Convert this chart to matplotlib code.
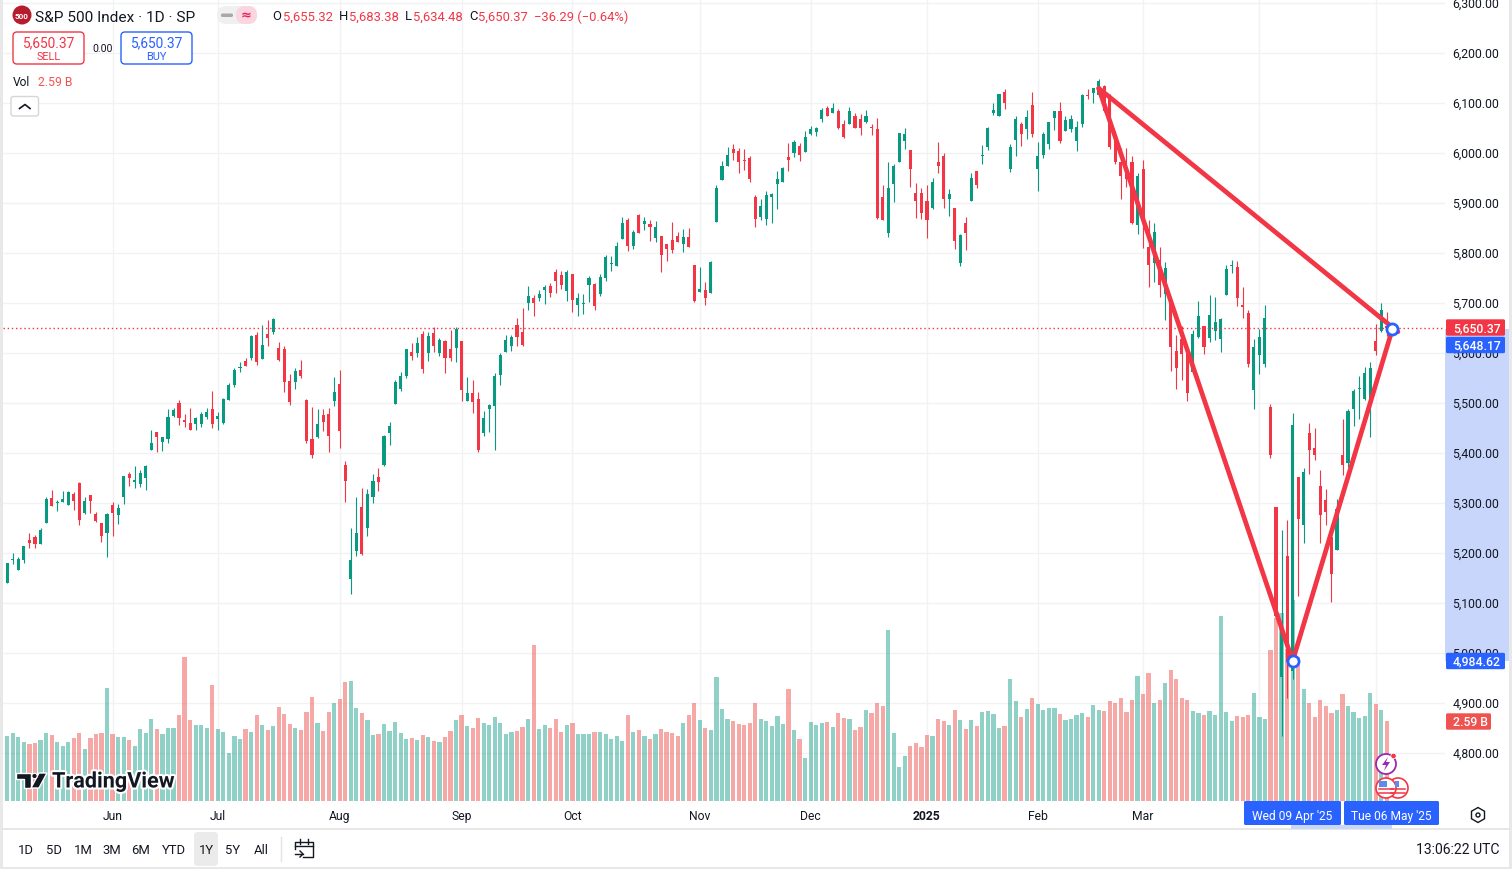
import matplotlib
matplotlib.use('Agg')
import matplotlib.pyplot as plt
import matplotlib.patheffects as pe
from matplotlib.colors import to_rgba
from matplotlib.transforms import ScaledTranslation
from matplotlib.patches import Rectangle, FancyBboxPatch, Circle, Polygon, RegularPolygon

plt.rcParams['font.family'] = ['Roboto', 'DejaVu Sans']

opens = [5141,5187,5167,5187,5227,5233,5219,5261,5311,5301,
5303,5297,5319,5341,5281,5317,5279,5261,5241,5297,
5277,5313,5359,5343,5339,5351,5407,5443,5423,5429,
5475,5501,5467,5461,5459,5459,5473,5489,5469,5461,
5507,5537,5571,5585,5591,5637,5589,5639,5643,5611,
5609,5545,5543,5567,5507,5429,5433,5477,5479,5505,
5539,5377,5149,5205,5293,5251,5313,5353,5377,5441,
5499,5529,5555,5603,5601,5639,5601,5641,5601,5625,
5609,5611,5625,5505,5521,5509,5441,5489,5495,5557,
5603,5615,5657,5643,5701,5711,5711,5727,5735,5763,
5757,5725,5759,5697,5699,5737,5739,5719,5751,5779,
5775,5829,5867,5815,5877,5859,5859,5831,5835,5819,
5827,5835,5819,5833,5777,5723,5727,5721,5863,5947,
5975,6009,6005,5987,5991,5913,5873,5869,5913,5939,
5943,5993,6001,6015,6003,6039,6043,6069,6091,6081,
6085,6059,6059,6075,6069,6063,6053,6049,5913,5841,
5939,5983,6025,6007,5921,5921,5905,5891,5983,5995,
5909,5891,5781,5861,5905,5965,5995,6013,6081,6075,
6123,5969,6027,6059,6049,6097,5969,5997,6019,6071,
6085,6045,6049,6025,6059,6117,6121,6117,6135,6113,
6029,5983,5971,5983,5857,5969,5813,5781,5787,5719,
5707,5605,5629,5599,5563,5633,5655,5631,5645,5629,
5717,5775,5773,5697,5681,5527,5597,5579,5492,5292,
4953,5194,4965,5353,5256,5441,5411,5335,5306,5232,
5207,5396,5381,5489,5529,5508,5499,5625,5645,5655]

highs = [5181,5201,5192,5215,5241,5237,5251,5313,5327,5307,
5325,5325,5323,5343,5313,5317,5283,5261,5281,5303,
5299,5355,5363,5375,5367,5377,5447,5443,5433,5489,
5491,5507,5479,5491,5473,5483,5491,5525,5483,5511,
5541,5571,5583,5591,5637,5643,5657,5667,5671,5623,
5615,5559,5571,5587,5509,5493,5489,5489,5491,5553,
5567,5385,5251,5313,5331,5329,5359,5371,5437,5463,
5547,5563,5609,5621,5633,5645,5643,5653,5631,5627,
5647,5653,5625,5553,5547,5523,5485,5499,5561,5601,
5637,5637,5671,5691,5735,5717,5727,5737,5741,5769,
5765,5767,5759,5721,5719,5755,5741,5759,5797,5795,
5823,5873,5871,5847,5879,5873,5867,5865,5835,5819,
5863,5843,5849,5851,5777,5773,5743,5785,5937,5985,
6013,6019,6011,6009,5995,5917,5909,5925,5921,5965,
5973,6021,6027,6021,6045,6055,6053,6091,6095,6101,
6089,6067,6093,6081,6079,6087,6059,6071,5937,5983,
5979,6041,6051,6007,5941,5931,5937,5951,6023,6001,
5929,5891,5839,5873,5961,5965,6017,6053,6101,6119,
6129,6019,6075,6063,6087,6123,6023,6043,6063,6085,
6103,6075,6077,6065,6119,6129,6131,6149,6137,6119,
6045,6011,6011,5995,5961,5987,5867,5861,5813,5783,
5709,5637,5655,5599,5647,5705,5655,5717,5713,5671,
5777,5787,5785,5733,5687,5629,5649,5697,5499,5292,
5247,5267,5481,5353,5371,5460,5450,5367,5329,5232,
5309,5469,5489,5528,5554,5572,5582,5659,5701,5683]

lows = [5141,5179,5167,5181,5211,5211,5219,5261,5295,5285,
5303,5297,5287,5257,5279,5281,5263,5223,5193,5235,
5259,5299,5335,5331,5333,5327,5407,5403,5405,5421,
5473,5457,5453,5447,5447,5453,5469,5451,5447,5459,
5507,5533,5563,5575,5587,5577,5589,5615,5639,5585,
5523,5497,5529,5551,5421,5391,5431,5445,5403,5495,
5411,5303,5119,5195,5197,5235,5301,5325,5374,5417,
5499,5525,5551,5587,5593,5561,5585,5603,5595,5561,
5585,5583,5505,5505,5481,5403,5435,5443,5407,5537,
5603,5605,5615,5615,5687,5675,5705,5699,5713,5721,
5729,5705,5683,5675,5679,5703,5687,5715,5745,5765,
5775,5829,5805,5809,5841,5847,5825,5823,5763,5785,
5801,5823,5803,5813,5703,5723,5697,5721,5863,5947,
5975,5987,5961,5967,5943,5853,5867,5857,5861,5889,
5943,5965,5993,5985,6003,6037,6035,6063,6075,6081,
6049,6031,6059,6051,6037,6061,6037,5869,5867,5833,
5903,5983,6009,5933,5871,5869,5831,5889,5961,5891,
5875,5809,5775,5807,5905,5931,5979,6007,6077,6075,
6089,5963,5995,6015,6029,6033,5925,5991,6009,6047,
6021,6045,6043,6005,6053,6109,6101,6115,6082,6009,
5979,5909,5933,5859,5839,5811,5733,5743,5713,5667,
5565,5529,5547,5505,5563,5631,5599,5623,5627,5603,
5717,5761,5695,5671,5573,5489,5559,5573,5390,5069,
4835,4910,4948,5115,5220,5359,5387,5221,5256,5102,
5207,5357,5372,5455,5468,5506,5433,5597,5643,5634]

closes = [5181,5189,5189,5215,5221,5219,5247,5309,5295,5303,
5309,5323,5305,5267,5305,5305,5265,5235,5279,5281,
5291,5355,5351,5347,5361,5375,5421,5433,5433,5473,
5487,5471,5463,5447,5471,5479,5483,5459,5475,5509,
5537,5567,5573,5575,5635,5583,5617,5631,5669,5587,
5543,5503,5565,5555,5425,5397,5459,5463,5435,5523,
5445,5345,5187,5241,5199,5319,5345,5343,5435,5455,
5543,5555,5609,5595,5621,5569,5635,5615,5627,5591,
5591,5649,5527,5521,5503,5407,5471,5497,5555,5597,
5627,5633,5633,5617,5715,5701,5719,5733,5721,5745,
5737,5763,5707,5711,5701,5751,5695,5753,5793,5781,
5815,5861,5815,5843,5841,5865,5853,5853,5797,5809,
5807,5823,5833,5813,5705,5729,5711,5783,5931,5975,
5997,6001,5983,5985,5949,5869,5895,5917,5919,5949,
5971,5987,6023,5997,6033,6049,6051,6087,6075,6091,
6051,6033,6085,6051,6051,6075,6051,5871,5867,5931,
5975,6041,6039,5969,5905,5881,5867,5943,5975,5909,
5919,5825,5837,5841,5951,5937,5997,6051,6087,6119,
6101,6013,6069,6039,6073,6039,5995,6039,6063,6085,
6025,6067,6069,6053,6117,6115,6131,6145,6085,6013,
5983,5955,5949,5861,5955,5869,5777,5843,5737,5771,
5613,5571,5599,5521,5639,5675,5613,5677,5663,5669,
5769,5777,5711,5693,5579,5613,5633,5671,5396,5074,
5062,4983,5457,5268,5363,5406,5397,5276,5283,5158,
5288,5376,5485,5525,5529,5561,5570,5604,5687,5650]

# volume in billions
volumes = [2.11,2.20,2.07,1.91,1.85,1.88,1.98,2.20,2.14,1.91,
1.78,1.91,2.04,2.20,1.68,2.04,2.17,2.20,3.66,2.17,
2.07,2.07,1.98,1.78,2.33,2.20,2.66,2.33,2.17,2.37,
2.37,2.79,4.67,2.62,2.46,2.46,2.37,3.76,2.33,2.24,
1.56,2.11,2.01,2.33,2.24,2.79,2.46,2.30,2.43,3.05,
2.82,2.49,2.37,2.30,2.88,3.37,2.53,2.27,2.88,3.18,
3.30,3.86,3.89,3.01,2.85,2.62,2.14,2.17,2.49,2.27,
2.56,2.20,2.01,2.04,1.98,2.14,2.07,1.94,1.91,2.07,
2.27,2.62,2.79,2.43,2.37,2.69,2.53,2.46,2.72,2.53,
2.17,2.24,2.27,2.40,2.66,5.05,2.33,2.46,2.37,2.66,
2.24,2.46,2.53,2.17,2.17,2.17,2.24,2.24,2.17,2.01,
2.11,1.94,2.79,2.24,2.30,2.11,2.01,2.17,2.33,2.24,
2.20,2.11,2.53,2.79,3.18,2.62,2.37,2.30,4.02,2.98,
2.66,2.59,2.49,2.46,2.53,3.18,2.66,2.59,2.43,2.75,
2.49,3.63,2.30,2.01,1.39,2.56,2.46,2.53,2.56,2.40,
2.85,2.69,2.66,2.30,2.40,2.95,2.85,3.18,3.08,5.54,
2.20,1.10,1.46,1.78,1.88,1.75,2.14,2.11,2.66,2.59,
2.46,2.95,2.62,2.33,2.62,2.43,2.88,2.92,2.82,2.37,
2.43,3.95,3.24,2.72,2.98,3.34,3.14,2.95,3.01,3.01,
2.82,2.62,2.66,2.79,2.85,2.72,3.11,2.95,2.92,3.24,
3.18,3.34,2.88,3.27,4.05,3.47,4.15,3.18,3.27,3.82,
4.24,3.95,3.34,3.27,2.92,2.85,2.79,2.92,2.79,5.99,
2.88,2.59,2.75,2.72,2.79,3.50,2.72,2.66,4.89,5.93,
6.09,4.92,6.49,4.67,3.63,3.18,2.72,3.27,3.08,2.85,
2.95,3.47,3.08,2.88,2.69,2.75,3.50,3.14,2.95,2.59]

# Apr and May sit under the crosshair date boxes, only their gridlines show
month_bars = [20,39,61,83,103,126,146,167,187,206,227,248]
month_names = ['Jun','Jul','Aug','Sep','Oct','Nov','Dec','2025','Feb','Mar','','']
price_ticks = [4800,4900,5000,5100,5200,5300,5400,5500,5600,5700,5800,5900,6000,6100,6200,6300]

# harmonic pattern drawn on the chart (bar number, price)
pat_bars = [198,233,251]
pat_prices = [6130,4984.62,5648.17]
pat_end_bar = 252
pat_end_price = 5643
last_price = 5650.37

UP = '#089981'
DOWN = '#F23645'
VOL_DOWN = '#EF5350'
BLUE = '#2962FF'
GRID = '#F1F2F4'
TXT = '#131722'

W, H = 1512, 870
fig = plt.figure(figsize=(W/100, H/100), dpi=100)
fig.patch.set_facecolor('white')

def px_axes(z):
    a = fig.add_axes([0, 0, 1, 1], zorder=z)
    a.set_xlim(0, W)
    a.set_ylim(H, 0)
    a.axis('off')
    a.patch.set_alpha(0)
    return a

bg = px_axes(0)
bg.add_patch(Rectangle((1445, 330), 65, 332, fc='#C8D6FC', ec='none'))

# main pane, 3..1445 px wide and 0..802 px high
ax = fig.add_axes([3/W, (H-802)/H, 1442/W, 802/H], zorder=1)
ax.patch.set_alpha(0)
ax.set_xlim(0.224, 260.5)
ymin, ymax = 4704.6, 6308.6
ax.set_ylim(ymin, ymax)
for s in ax.spines.values():
    s.set_visible(False)

ax.set_axisbelow(True)
ax.grid(True, color=GRID, lw=1)
ax.set_xticks(month_bars)
ax.set_xticklabels(month_names, fontsize=8.7, color=TXT)
ax.get_xticklabels()[7].set_fontweight('bold')
ax.set_yticks(price_ticks)
ax.set_yticklabels(['{:,.2f}'.format(p) for p in price_ticks], fontsize=8.8, color=TXT)
ax.yaxis.tick_right()
ax.tick_params(axis='both', length=0)
ax.tick_params(axis='y', pad=5.3)
ax.tick_params(axis='x', pad=6)
# price labels sit 2px above their gridlines in the original
nudge = ScaledTranslation(0, 2/100, fig.dpi_scale_trans)
for t in ax.get_yticklabels():
    t.set_transform(t.get_transform() + nudge)

xs = list(range(1, len(opens)+1))
cols = [UP if c >= o else DOWN for o, c in zip(opens, closes)]
vol_cols = [to_rgba(UP, 0.45) if c >= o else to_rgba(VOL_DOWN, 0.5) for o, c in zip(opens, closes)]

# volume sits on the same pane, 1B is about 61.8 price points high
vol_scale = 61.8
ax.bar(xs, [v*vol_scale for v in volumes], bottom=ymin, width=0.76, color=vol_cols, lw=0, zorder=2)

ax.vlines(xs, lows, highs, colors=cols, lw=0.8, zorder=3)
ax.bar(xs, [max(abs(c-o), 1.5) for o, c in zip(opens, closes)], bottom=[min(o, c) for o, c in zip(opens, closes)],
       width=0.56, color=cols, lw=0, zorder=4)

ax.plot([0.224, 260.5], [last_price, last_price], color=DOWN, lw=1, ls=(0, (1, 2)), dash_capstyle='butt', zorder=5)

ax.plot(pat_bars, pat_prices, color=DOWN, lw=3.4, zorder=6, solid_capstyle='round', solid_joinstyle='round')
ax.plot([pat_bars[0], pat_end_bar], [pat_prices[0], pat_end_price], color=DOWN, lw=3.4, zorder=6, solid_capstyle='round')
ax.plot(pat_bars[1:], pat_prices[1:], 'o', ms=8, mfc='white', mec=BLUE, mew=2, zorder=7)

ov = px_axes(5)

def rbox(x, y, w, h, fc='none', ec='none', r=3, lw=1.0, z=2):
    p = FancyBboxPatch((x, y), w, h, boxstyle='round,pad=0,rounding_size=%s' % r, fc=fc, ec=ec, lw=lw,
                       mutation_aspect=1, zorder=z)
    ov.add_patch(p)

def label(x, y, s, size=12, color=TXT, ha='center', **kw):
    return ov.text(x, y+1, s, fontsize=size*0.72, color=color, ha=ha, va='center', zorder=6, **kw)

# window frame
ov.add_patch(Rectangle((0, 0), 3, H, fc='#E8E8E8', ec='none'))
ov.add_patch(Rectangle((1509, 0), 3, H, fc='#E8E8E8', ec='none'))
ov.add_patch(Rectangle((0, 868), W, 2, fc='#E8E8E8', ec='none'))
ov.plot([3, 1509], [830, 830], color='#E3E3E3', lw=1.2)

# header
ov.add_patch(Circle((22, 16), 9.5, fc='#B71C2C', ec='none'))
label(22, 15.5, '500', 8, 'white', fontweight='bold')
label(35, 16.5, 'S&P 500 Index · 1D · SP', 15.4, TXT, ha='left')
rbox(217, 7, 40, 18, fc='#F0F0F0', r=9)
rbox(236, 7, 21, 18, fc='#FBD5E0', r=9)
rbox(221, 14.5, 12, 3.5, fc='#A8A8A8', r=1.5, z=3)
label(246, 14.5, '≈', 13, '#E91E63', fontweight='bold', family=['DejaVu Sans'])

ohlc_x = [272.5, 283, 339, 349, 405, 412.5, 469, 478, 534.5]
ohlc_s = ['O', '5,655.32', 'H', '5,683.38', 'L', '5,634.48', 'C', '5,650.37', '−36.29 (−0.64%)']
ohlc_c = [TXT, DOWN, TXT, DOWN, TXT, DOWN, TXT, DOWN, DOWN]
for xx, s, c in zip(ohlc_x, ohlc_s, ohlc_c):
    label(xx, 16, s, 13, c, ha='left')

rbox(13, 33, 71, 32, fc='white', ec=DOWN, r=4)
label(48.5, 42.5, '5,650.37', 13.7, DOWN)
label(48.5, 56.5, 'SELL', 11, DOWN)
label(103, 48.5, '0.00', 10.5, TXT)
rbox(121, 33, 71, 32, fc='white', ec=BLUE, r=4)
label(156.5, 42.5, '5,650.37', 13.7, BLUE)
label(156.5, 56.5, 'BUY', 11, BLUE)
label(13, 82, 'Vol', 12, TXT, ha='left')
label(38, 82, '2.59 B', 12.3, '#EF5350', ha='left')
rbox(11, 97.5, 27.5, 19.5, fc='white', ec='#D6D6D6', r=2.5)
ov.plot([19.5, 25, 30], [109.5, 105.5, 109.5], color=TXT, lw=1.2, zorder=4)

# TradingView logo
logo_fx = [pe.withStroke(linewidth=3, foreground='white')]
logo = [Polygon([(16, 774), (31, 774), (31, 789), (24, 789), (24, 780), (16, 780)], fc='#131722', ec='white', lw=1, zorder=5),
        Polygon([(39, 774), (47, 774), (39, 789), (31, 789)], fc='#131722', ec='white', lw=1, zorder=5),
        Circle((34.5, 777), 2.7, fc='#131722', ec='white', lw=0.8, zorder=5)]
for p in logo:
    ov.add_patch(p)
label(52, 781.5, 'TradingView', 21.6, '#131722', ha='left', fontweight='bold', path_effects=logo_fx)

# right scale boxes
for y, s, c, w in [(328.5, '5,650.37', DOWN, 59), (346, '5,648.17', BLUE, 59), (662, '4,984.62', BLUE, 59), (722.5, '2.59 B', '#EF5350', 45)]:
    rbox(1446, y-8.2, w, 16.4, fc=c, r=1.5)
    label(1453, y-0.7, s, 12.2, 'white', ha='left', fontweight='medium')

# time scale boxes
ov.add_patch(Rectangle((1291, 826), 101, 4, fc='#C8D6FC', ec='none', zorder=2))
rbox(1244, 802, 97, 24, fc=BLUE, r=1.5)
rbox(1344, 802, 95, 24, fc=BLUE, r=1.5)
label(1292.5, 815.5, "Wed 09 Apr '25", 12, 'white')
label(1391.5, 815.5, "Tue 06 May '25", 12, 'white')

# settings hexagon
ov.add_patch(RegularPolygon((1478, 816), 6, radius=7.5, fc='white', ec=TXT, lw=1))
ov.add_patch(Circle((1478, 816), 2, fc='white', ec=TXT, lw=1, zorder=3))

# event badges
ov.add_patch(Circle((1398, 789), 10, fc='white', ec=DOWN, lw=1.2, zorder=3))
ov.add_patch(Circle((1386, 789), 10, fc='white', ec=DOWN, lw=1.2, zorder=4))
for cx in [1398, 1386]:
    for dy in [1, 5]:
        ov.plot([cx-7, cx+7], [789+dy, 789+dy], color=DOWN, lw=1.1, zorder=5)
ov.add_patch(Rectangle((1379, 782), 8, 6, fc='#5B8DEF', ec='none', zorder=5))
ov.add_patch(Rectangle((1395, 782), 4, 6, fc='#5B8DEF', ec='none', zorder=5))
ov.add_patch(Circle((1386, 765), 10, fc='white', ec='#9C27B0', lw=1.3, zorder=3))
ov.add_patch(Polygon([(1388, 758), (1382, 766), (1386, 766), (1384, 772), (1390, 763), (1386, 763)], fc='#9C27B0', ec='none', zorder=4))
ov.add_patch(Circle((1393.5, 757), 2.7, fc=DOWN, ec='white', lw=0.5, zorder=5))

# bottom bar
rbox(194, 833, 24, 34, fc='#EBEBEB', r=4)
for xx, s in zip([26, 54, 83, 112, 141, 174, 206, 233, 261], ['1D', '5D', '1M', '3M', '6M', 'YTD', '1Y', '5Y', 'All']):
    label(xx, 849.5, s, 13, TXT)
ov.plot([281, 281], [838, 862], color='#E3E3E3', lw=1)
ov.plot([295, 295, 313, 313, 303], [850, 843, 843, 858, 858], color=TXT, lw=1)
ov.plot([295, 313], [847, 847], color=TXT, lw=1)
ov.plot([300, 300], [840, 845], color=TXT, lw=1)
ov.plot([308, 308], [840, 845], color=TXT, lw=1)
ov.plot([295, 303], [855, 855], color=TXT, lw=1)
ov.plot([300, 303, 300], [852, 855, 858], color=TXT, lw=1)
label(1500, 849.5, '13:06:22 UTC', 14, TXT, ha='right')

fig.savefig('out.png', dpi=100)
